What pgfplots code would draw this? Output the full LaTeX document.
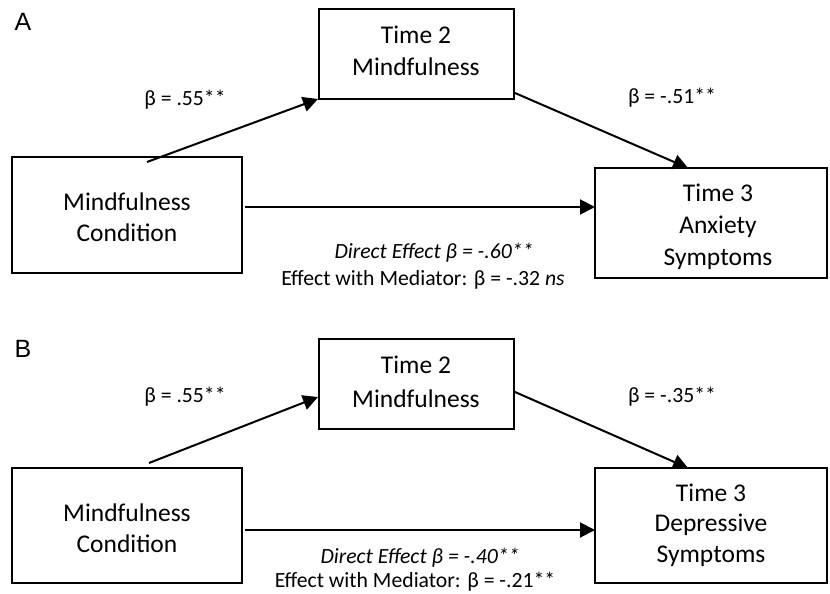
\documentclass[border=0pt]{standalone}
\usepackage{pgfplots}
\pgfplotsset{compat=1.18}
\usepackage{fontspec}
\setmainfont{Carlito}
\newfontfamily\arialfont{Liberation Sans}
\usetikzlibrary{arrows.meta}
\begin{document}
\begin{tikzpicture}
\begin{axis}[width=830pt,height=594pt,scale only axis,
  xmin=0,xmax=830,ymin=0,ymax=594,y dir=reverse,
  axis lines=none,clip=false]
\path (axis cs:0,0) rectangle (axis cs:830,594);
% ---------- Panel A ----------
\addplot[black,line width=2pt,mark=none] coordinates {(319,9)(514,9)(514,99)(319,99)(319,9)(514,9)};
\addplot[black,line width=2pt,mark=none] coordinates {(12,157)(242,157)(242,273)(12,273)(12,157)(242,157)};
\addplot[black,line width=2pt,mark=none] coordinates {(595,168)(827,168)(827,278)(595,278)(595,168)(827,168)};
\addplot[black,line width=2pt,mark=none,-{Triangle[length=15pt,width=15pt]}] coordinates {(147,162)(318,99)};
\addplot[black,line width=2pt,mark=none,-{Triangle[length=15pt,width=15pt]}] coordinates {(515,93)(688,168)};
\addplot[black,line width=2pt,mark=none,-{Triangle[length=15pt,width=15pt]}] coordinates {(245,207)(595,207)};
% ---------- Panel B ----------
\addplot[black,line width=2pt,mark=none] coordinates {(319,339)(514,339)(514,429)(319,429)(319,339)(514,339)};
\addplot[black,line width=2pt,mark=none] coordinates {(12,468)(242,468)(242,583)(12,583)(12,468)(242,468)};
\addplot[black,line width=2pt,mark=none] coordinates {(595,468)(827,468)(827,583)(595,583)(595,468)(827,468)};
\addplot[black,line width=2pt,mark=none,-{Triangle[length=15pt,width=15pt]}] coordinates {(149,463)(318,397)};
\addplot[black,line width=2pt,mark=none,-{Triangle[length=15pt,width=15pt]}] coordinates {(515,392)(688,468)};
\addplot[black,line width=2pt,mark=none,-{Triangle[length=15pt,width=15pt]}] coordinates {(245,530)(595,530)};
% ---------- Text ----------
\tikzset{bx/.style={align=center,inner sep=0pt,font=\fontsize{25.5}{32}\selectfont},
         lb/.style={inner sep=0pt,font=\fontsize{21.7}{25}\selectfont},
         pn/.style={inner sep=0pt,font=\arialfont\fontsize{25}{28}\selectfont}}
\node[pn] at (axis cs:23,22) {A};
\node[bx] at (axis cs:416,51) {Time 2\\Mindfulness};
\node[bx,font=\fontsize{25.5}{30.5}\selectfont] at (axis cs:127,217) {Mindfulness\\Condition};
\node[bx] at (axis cs:718,227) {Time 3\\Anxiety\\Symptoms};
\node[lb] at (axis cs:185,100) {β = .55**};
\node[lb] at (axis cs:672,98) {β = -.51**};
\node[lb] at (axis cs:434,253) {\itshape Direct Effect β = -.60**};
\node[lb] at (axis cs:423,280) {Effect with Mediator: β = -.32 \textit{ns}};
\node[pn] at (axis cs:23,349) {B};
\node[bx,font=\fontsize{25.5}{34}\selectfont] at (axis cs:416,382) {Time 2\\Mindfulness};
\node[bx,font=\fontsize{25.5}{30.5}\selectfont] at (axis cs:127,528) {Mindfulness\\Condition};
\node[bx,font=\fontsize{25.5}{30.5}\selectfont] at (axis cs:711,525) {Time 3\\Depressive\\Symptoms};
\node[lb] at (axis cs:185,397) {β = .55**};
\node[lb] at (axis cs:672,397) {β = -.35**};
\node[lb] at (axis cs:420,558) {\itshape Direct Effect β = -.40**};
\node[lb] at (axis cs:415,582) {Effect with Mediator: β = -.21**};
\end{axis}
\pgfresetboundingbox
\useasboundingbox (current axis.south west) rectangle (current axis.north east);
\end{tikzpicture}
\end{document}
